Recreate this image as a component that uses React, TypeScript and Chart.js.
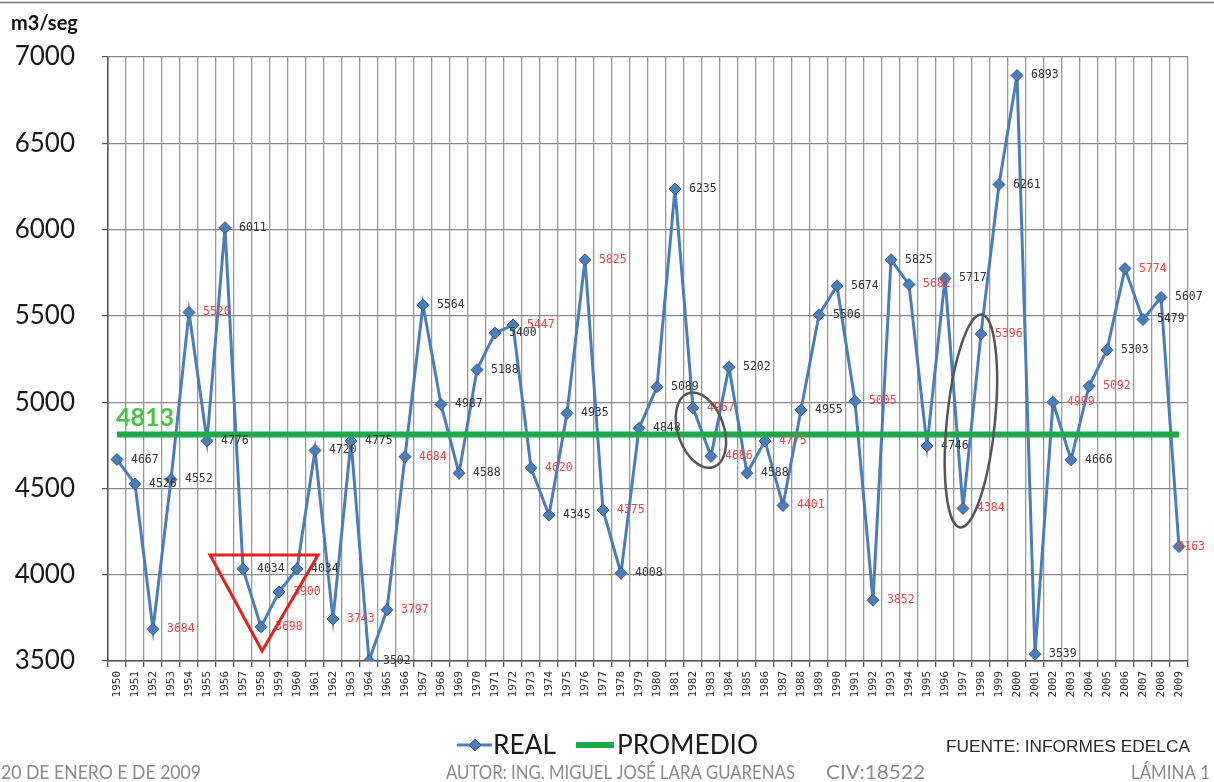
import React, { useEffect, useRef } from "react";
import { Chart, registerables } from "chart.js";

Chart.register(...registerables);

// ---------- data ----------
const years = [
  "1950", "1951", "1952", "1953", "1954", "1955", "1956", "1957", "1958", "1959",
  "1960", "1961", "1962", "1963", "1964", "1965", "1966", "1967", "1968", "1969",
  "1970", "1971", "1972", "1973", "1974", "1975", "1976", "1977", "1978", "1979",
  "1980", "1981", "1982", "1983", "1984", "1985", "1986", "1987", "1988", "1989",
  "1990", "1991", "1992", "1993", "1994", "1995", "1996", "1997", "1998", "1999",
  "2000", "2001", "2002", "2003", "2004", "2005", "2006", "2007", "2008", "2009",
];

const realFlow = [
  4667, 4526, 3684, 4552, 5520, 4776, 6011, 4034, 3698, 3900,
  4034, 4720, 3743, 4775, 3502, 3797, 4684, 5564, 4987, 4588,
  5188, 5400, 5447, 4620, 4345, 4935, 5825, 4375, 4008, 4848,
  5089, 6235, 4967, 4686, 5202, 4588, 4775, 4401, 4955, 5506,
  5674, 5005, 3852, 5825, 5682, 4746, 5717, 4384, 5396, 6261,
  6893, 3539, 4999, 4666, 5092, 5303, 5774, 5479, 5607, 4163,
];

// label tone per year: r = red, k = black
const labelTone = [
  "k", "k", "r", "k", "r", "k", "k", "k", "r", "r",
  "k", "k", "r", "k", "k", "r", "r", "k", "k", "k",
  "k", "k", "r", "r", "k", "k", "r", "r", "k", "k",
  "k", "k", "r", "r", "k", "k", "r", "r", "k", "k",
  "k", "r", "r", "k", "r", "k", "k", "r", "r", "k",
  "k", "k", "r", "k", "r", "k", "r", "k", "k", "r",
];

const averageFlow = 4813;
const yTicks = [3500, 4000, 4500, 5000, 5500, 6000, 6500, 7000];

const seriesNames = ["REAL", "PROMEDIO"];
const unitLabel = "m3/seg";
const footerTexts = {
  date: "20 DE ENERO E DE 2009",
  author: "AUTOR: ING. MIGUEL JOSÉ LARA GUARENAS",
  civ: "CIV:18522",
  sheet: "LÁMINA 1",
  source: "FUENTE: INFORMES EDELCA",
};

// annotation shapes in data space (category index, value)
const triangleMarks = [
  { i: 5.17, v: 4114 },
  { i: 11.17, v: 4114 },
  { i: 8.06, v: 3558 },
];
const ellipseMarks = [
  { i: 32.44, v: 4838, rx: 23, ry: 39, rot: -0.33 },
  { i: 47.44, v: 4891, rx: 24, ry: 107, rot: 0.1 },
];

// ---------- styles ----------
const BLUE = "#4a7ebb";
const BLUE_DARK = "#385d8a";
const GREEN = "#1fa94a";
const GREEN_TEXT = "#46c446";
const RED_LABEL = "#e8474a";
const BLACK_LABEL = "#333333";
const GRID = "#9a9a9a";

function fitText(ctx: CanvasRenderingContext2D, text: string, x: number, y: number, w: number) {
  const m = ctx.measureText(text).width;
  const s = w / m;
  ctx.save();
  ctx.translate(x, y);
  ctx.scale(s, 1);
  ctx.textAlign = "left";
  ctx.fillText(text, 0, 0);
  ctx.restore();
}

const overlayPlugin = {
  id: "overlay",
  afterDatasetsDraw(chart: any) {
    const ctx: CanvasRenderingContext2D = chart.ctx;
    const xs = chart.scales.x;
    const ys = chart.scales.y;
    const px = (i: number) => xs.getPixelForValue(i);
    const py = (v: number) => ys.getPixelForValue(v);

    ctx.save();
    // data labels
    ctx.font = "11.5px 'DejaVu Sans Mono'";
    ctx.textBaseline = "middle";
    ctx.textAlign = "left";
    const meta = chart.getDatasetMeta(0);
    meta.data.forEach((pt: any, i: number) => {
      const txt = String(realFlow[i]);
      const w = ctx.measureText(txt).width;
      const x = Math.min(pt.x + 14, chart.width - w - 9);
      ctx.fillStyle = labelTone[i] === "r" ? RED_LABEL : BLACK_LABEL;
      ctx.fillText(txt, x, pt.y);
    });

    // red triangle
    ctx.beginPath();
    triangleMarks.forEach((p, k) => {
      const x = px(p.i);
      const y = py(p.v);
      if (k === 0) ctx.moveTo(x, y);
      else ctx.lineTo(x, y);
    });
    ctx.closePath();
    ctx.strokeStyle = "#e3201b";
    ctx.lineWidth = 3;
    ctx.lineJoin = "miter";
    ctx.stroke();

    // grey ellipses
    ctx.strokeStyle = "#555555";
    ctx.lineWidth = 2.5;
    ellipseMarks.forEach((e) => {
      ctx.beginPath();
      ctx.ellipse(px(e.i), py(e.v), e.rx, e.ry, e.rot, 0, Math.PI * 2);
      ctx.stroke();
    });

    // average label
    ctx.font = "bold 25px Lato";
    ctx.fillStyle = GREEN_TEXT;
    ctx.textBaseline = "alphabetic";
    ctx.textAlign = "left";
    ctx.fillText(String(averageFlow), px(0) - 1, py(averageFlow) - 8);
    ctx.restore();
  },
  afterDraw(chart: any) {
    const ctx: CanvasRenderingContext2D = chart.ctx;
    ctx.save();
    // top border
    ctx.strokeStyle = "#777777";
    ctx.lineWidth = 1.5;
    ctx.beginPath();
    ctx.moveTo(0, 2.5);
    ctx.lineTo(1214, 2.5);
    ctx.stroke();

    // unit title
    ctx.font = "bold 20px Lato";
    ctx.fillStyle = "#111111";
    ctx.textBaseline = "middle";
    ctx.textAlign = "left";
    ctx.fillText(unitLabel, 11, 24);

    // legend
    const ly = 745;
    ctx.strokeStyle = BLUE;
    ctx.lineWidth = 3;
    ctx.beginPath();
    ctx.moveTo(457, ly);
    ctx.lineTo(492, ly);
    ctx.stroke();
    ctx.beginPath();
    ctx.moveTo(475, ly - 6);
    ctx.lineTo(481, ly);
    ctx.lineTo(475, ly + 6);
    ctx.lineTo(469, ly);
    ctx.closePath();
    ctx.fillStyle = BLUE;
    ctx.fill();
    ctx.strokeStyle = BLUE_DARK;
    ctx.lineWidth = 1;
    ctx.stroke();

    ctx.strokeStyle = GREEN;
    ctx.lineWidth = 6;
    ctx.beginPath();
    ctx.moveTo(576, ly);
    ctx.lineTo(614, ly);
    ctx.stroke();

    ctx.fillStyle = "#1a1a1a";
    ctx.font = "26px Lato";
    ctx.textBaseline = "middle";
    fitText(ctx, seriesNames[0], 493, ly + 1, 63);
    fitText(ctx, seriesNames[1], 617, ly + 1, 141);

    // source
    ctx.font = "16px 'Liberation Sans'";
    ctx.fillStyle = "#2a2a2a";
    fitText(ctx, footerTexts.source, 946, 748, 244);

    // footer
    ctx.font = "19px Lato";
    ctx.fillStyle = "#8a8a8a";
    fitText(ctx, footerTexts.date, 1, 773, 200);
    fitText(ctx, footerTexts.author, 446, 773, 349);
    fitText(ctx, footerTexts.civ, 826, 773, 99);
    fitText(ctx, footerTexts.sheet, 1131, 773, 79);
    ctx.restore();
  },
};

export default function App() {
  const canvasRef = useRef<HTMLCanvasElement | null>(null);

  useEffect(() => {
    document.body.style.margin = "0";
    const canvas = canvasRef.current;
    if (!canvas) return;
    const chart = new Chart(canvas, {
      type: "line",
      data: {
        labels: years,
        datasets: [
          {
            label: seriesNames[0],
            data: realFlow,
            borderColor: BLUE,
            borderWidth: 3,
            backgroundColor: BLUE,
            pointStyle: "rectRot",
            pointRadius: 6,
            pointBackgroundColor: BLUE,
            pointBorderColor: BLUE_DARK,
            pointBorderWidth: 1,
            tension: 0,
            order: 1,
          },
          {
            label: seriesNames[1],
            data: years.map(() => averageFlow),
            borderColor: GREEN,
            borderWidth: 6,
            pointRadius: 0,
            tension: 0,
            order: 0,
          },
        ],
      },
      options: {
        animation: false,
        responsive: false,
        layout: { padding: { top: 57, left: 8, right: 26, bottom: 71 } },
        plugins: {
          legend: { display: false },
          tooltip: { enabled: false },
          title: { display: false },
        },
        scales: {
          x: {
            type: "category",
            offset: true,
            grid: {
              offset: true,
              color: GRID,
              lineWidth: 1.3,
              tickLength: 6,
              tickColor: "#555555",
            },
            border: { color: "#555555", width: 1.5 },
            ticks: {
              autoSkip: false,
              minRotation: 90,
              maxRotation: 90,
              padding: 4,
              color: "#333333",
              font: { family: "'DejaVu Sans Mono'", size: 11 },
            },
            afterFit(scale: any) {
              scale.height = 50;
            },
          },
          y: {
            min: yTicks[0],
            max: yTicks[yTicks.length - 1],
            afterBuildTicks(scale: any) {
              scale.ticks = yTicks.map((v) => ({ value: v }));
            },
            grid: {
              color: "#8a8a8a",
              lineWidth: 1.2,
              tickLength: 6,
              tickColor: "#555555",
            },
            border: { color: "#555555", width: 1.5 },
            ticks: {
              padding: 27,
              color: "#1a1a1a",
              font: { family: "Lato", size: 26 },
              callback: (value: any) => String(value),
            },
            afterFit(scale: any) {
              scale.width = 100;
            },
          },
        },
      },
      plugins: [overlayPlugin],
    });
    return () => chart.destroy();
  }, []);

  return (
    <div style={{ width: 1214, height: 782, background: "#ffffff" }}>
      <canvas ref={canvasRef} width={1214} height={782} style={{ display: "block" }} />
    </div>
  );
}
